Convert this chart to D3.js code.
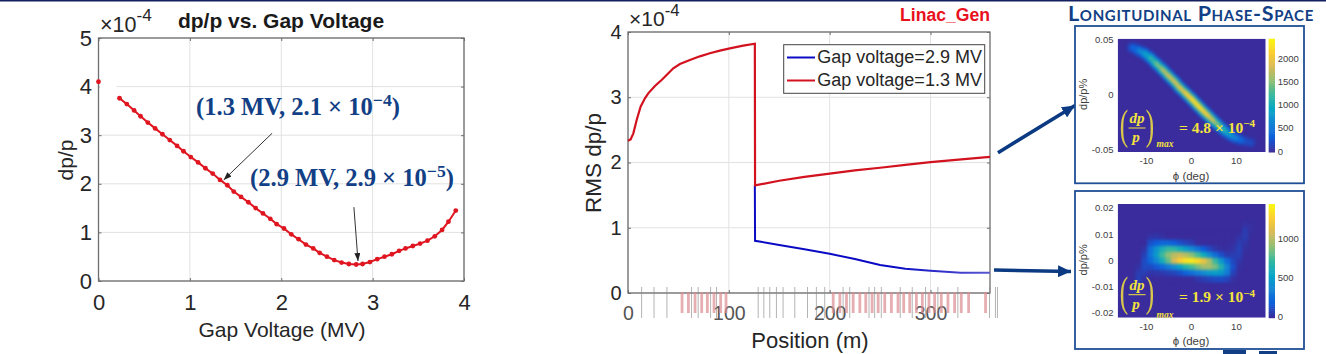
<!DOCTYPE html>
<html>
<head>
<meta charset="utf-8">
<script src="https://cdn.jsdelivr.net/npm/d3@7"></script>
<style>
html, body { margin: 0; background: #fff; }
svg { display: block; }
text { font-family: "Liberation Sans", Arial, sans-serif; }
.math { font-family: "Liberation Serif", serif; font-weight: bold; }
</style>
</head>
<body>
<svg id="chart" width="1326" height="354"></svg>
<script>
// left chart, dp/p against gap voltage
const voltage = [.23,.31,.39,.46,.54,.62,.70,.78,.86,.93,1.01,1.09,1.17,1.25,1.33,1.41,1.48,1.56,1.64,1.72,1.80,1.88,1.95,2.03,2.11,2.19,2.27,2.35,2.42,2.50,2.58,2.66,2.74,2.82,2.89,2.97,3.05,3.13,3.21,3.29,3.36,3.44,3.52,3.60,3.68,3.76,3.83,3.91];
const spread = [3.76,3.64,3.51,3.39,3.26,3.14,3.02,2.90,2.78,2.67,2.55,2.44,2.32,2.21,2.08,1.97,1.84,1.73,1.62,1.50,1.39,1.28,1.17,1.08,.96,.86,.75,.67,.58,.50,.43,.38,.35,.34,.35,.39,.45,.50,.55,.62,.67,.72,.77,.83,.92,1.05,1.22,1.45];
const strayPoint = [0, 4.1];

// middle chart, RMS dp/p along the linac
const redPos = [0,2.6,5.3,8.6,12.5,16.8,20.1,26.7,33.3,38.3,44.9,51.5,61.4,71.3,81.2,91.1,101,114.2,125.8,126,150,175,200,225,250,275,300,325,359];
const redRms = [2.335,2.355,2.447,2.651,2.856,2.983,3.06,3.172,3.264,3.341,3.443,3.51,3.571,3.627,3.674,3.714,3.75,3.79,3.82,1.65,1.72,1.78,1.83,1.88,1.92,1.965,2.005,2.04,2.085];
const bluePos = [125.8,126,150,175,200,225,250,275,300,330,359];
const blueRms = [1.65,.80,.736,.67,.60,.52,.43,.37,.34,.31,.31];
const pinkBars = [53.5,59.8,66.4,73,78.6,85.2,91.8,97.1,203.4,210,216.6,223.2,229.8,235.7,242,248,254.5,261.1,267.7,273.3,279.3,285.9,291.8,298.4,304,310.6,317.2,323.8,330.4,337.7,354.5];
const greyBars = [13.5,25.8,38.6,63,69.6,81.9,87.8,129.1,134.7,140.6,147.2,153.8,165.4,178,186.8,195.1,213.3,219.9,239,244.6,251.2,270,281.9,295.1,307.3,327.1,358.5,364.4,366.4];

// upper phase space map, crest of the thin diagonal ridge
const ridgePhi = [-13.1,-11.8,-10.5,-9.2,-7.9,-6.5,-5.2,-3.9,-2.6,-1.25,.1,1.3,2.6,4,5.3,6.6,7.9,9.2,10.6,11.9,13.2];
const ridgeDp = [.0433,.0409,.0382,.0343,.0291,.0237,.0182,.0130,.0070,.0018,-.0036,-.0088,-.0142,-.0197,-.0248,-.0294,-.0339,-.0376,-.0400,-.0418,-.0430];
const ridgeCount = [250,550,800,1100,1400,1700,1900,1950,1950,2150,2300,2350,2300,2100,1800,1400,1000,750,500,300,120];

// lower map: each row is [first column, counts from there on], the rest is 0
const heatBottom = [
  [0],[0],[0],[21,25,10],[21,60,10],[5,30,40,20,0,0,0,0,0,0,0,0,0,0,0,0,30,60],
  [5,130,180,220,220,180,130,90,60,0,0,0,0,0,0,10,60,35],
  [4,30,260,440,620,720,700,610,500,390,280,180,100,40,15,10,30,80,15],
  [4,80,280,480,740,900,1020,1060,1000,900,750,580,400,250,130,50,60,70],
  [4,110,230,370,600,820,1090,1270,1360,1380,1320,1190,970,720,470,240,100,35],
  [3,25,110,110,160,230,310,410,520,660,750,860,950,960,860,660,370,130,15],
  [3,60,70,30,40,50,70,90,130,200,260,330,400,480,510,480,320,80],
  [3,80,20,0,0,0,0,0,0,0,0,40,60,90,110,120,90,20],
  [3,55],[2,25,30],[2,15],[0],[0],[0]
];
const heatCols = 25, heatRows = 19;

const svg = d3.select("#chart");
const ink = "#262626", gridCol = "#e2e2e2", boxCol = "#6e6e6e", red = "#df1520", navy = "#0b3a82";

svg.append("rect").attr("width", 1326).attr("height", 1.5).attr("fill", "#14205e");
svg.append("rect").attr("x", 1223).attr("y", 350).attr("width", 23).attr("height", 4).attr("fill", "#123f85");
svg.append("rect").attr("x", 1259).attr("y", 351).attr("width", 18).attr("height", 3).attr("fill", "#123f85");

const defs = svg.append("defs");
function addHead(id, w, h, col) {
  defs.append("marker").attr("id", id).attr("viewBox", `0 0 ${w} ${h}`)
    .attr("refX", w).attr("refY", h / 2).attr("markerWidth", w).attr("markerHeight", h)
    .attr("markerUnits", "userSpaceOnUse").attr("orient", "auto")
    .append("path").attr("d", `M0,0L${w},${h / 2}L0,${h}Z`).attr("fill", col);
}
addHead("headSmall", 8, 6, "#222");
addHead("headBig", 13, 12, navy);

const fade = defs.append("linearGradient").attr("id", "blueFade");
fade.append("stop").attr("offset", "0.6").attr("stop-color", "#0a0ac4");
fade.append("stop").attr("offset", "1").attr("stop-color", "#5a58d0");

function label(g, txt, x, y, size, opts = {}) {
  return g.append("text").attr("x", x).attr("y", y).text(txt)
    .attr("font-size", size).attr("dominant-baseline", "middle")
    .attr("text-anchor", opts.anchor || "middle")
    .attr("font-weight", opts.weight || null)
    .attr("fill", opts.fill || ink)
    .attr("transform", opts.rot ? `rotate(${opts.rot} ${x} ${y})` : null);
}

function timesTen(g, x, y, size) {
  const t = g.append("text").attr("x", x).attr("y", y).attr("font-size", size).attr("fill", ink);
  t.append("tspan").text("\u00d710");
  t.append("tspan").text("-4").attr("dy", -size * 0.5).attr("font-size", size * 0.8);
}

function frame(g, x, y, xTicks, yTicks, size, xSize, tickCol) {
  const [x0, x1] = x.range(), [y0, y1] = y.range();
  g.append("g").selectAll("line").data(xTicks).join("line")
    .attr("x1", x).attr("x2", x).attr("y1", y0).attr("y2", y1).attr("stroke", gridCol);
  g.append("g").selectAll("line").data(yTicks).join("line")
    .attr("x1", x0).attr("x2", x1).attr("y1", y).attr("y2", y).attr("stroke", gridCol);
  const ax = g.append("g").attr("transform", `translate(0,${y0})`)
    .call(d3.axisBottom(x).tickValues(xTicks).tickSize(-3).tickPadding(13).tickFormat(d3.format("d")));
  const ay = g.append("g").attr("transform", `translate(${x0},0)`)
    .call(d3.axisLeft(y).tickValues(yTicks).tickSize(-3).tickPadding(6.5).tickFormat(d3.format("d")));
  const atop = g.append("g").attr("transform", `translate(0,${y1})`)
    .call(d3.axisTop(x).tickValues(xTicks).tickSize(-3).tickFormat(""));
  const aright = g.append("g").attr("transform", `translate(${x1},0)`)
    .call(d3.axisRight(y).tickValues(yTicks).tickSize(-3).tickFormat(""));
  [ax, ay, atop, aright].forEach(a => {
    a.select(".domain").remove();
    a.selectAll("line").attr("stroke", boxCol);
    a.selectAll("text").attr("font-size", size).attr("fill", ink).style("font-family", '"Liberation Sans"');
  });
  ax.selectAll("text").attr("font-size", xSize).attr("fill", tickCol || ink);
}

function plotBox(g, x, y) {
  const [x0, x1] = x.range(), [y0, y1] = y.range();
  g.append("rect").attr("x", x0).attr("y", y1).attr("width", x1 - x0).attr("height", y0 - y1)
    .attr("fill", "none").attr("stroke", boxCol).attr("stroke-width", 1.3);
}

// ---- left chart
const left = svg.append("g");
const xV = d3.scaleLinear().domain([0, 4]).range([98.5, 464]);
const yS = d3.scaleLinear().domain([0, 5]).range([281, 38]);
frame(left, xV, yS, [0, 1, 2, 3, 4], [0, 1, 2, 3, 4, 5], 22, 22);
left.append("rect").attr("x", 99.5).attr("y", 66).attr("width", 17).attr("height", 58).attr("fill", "#fff");
plotBox(left, xV, yS);

const spreadLine = d3.line().x(d => xV(d[0])).y(d => yS(d[1]));
const spreadPts = voltage.map((v, i) => [v, spread[i]]);
left.append("path").attr("d", spreadLine(spreadPts)).attr("fill", "none").attr("stroke", red).attr("stroke-width", 2);
left.append("g").selectAll("circle").data([strayPoint, ...spreadPts]).join("circle")
  .attr("cx", d => xV(d[0])).attr("cy", d => yS(d[1])).attr("r", 2.4).attr("fill", red);

timesTen(left, 100, 32, 21.5);
label(left, "dp/p vs. Gap Voltage", 281, 22, 21, { weight: "bold", fill: "#1a1a1a" });
label(left, "Gap Voltage (MV)", 282, 331, 21);
label(left, "dp/p", 67, 160, 21, { rot: -90 });

function mathNote(g, x, y, a, b, exp, fill, size) {
  const t = g.append("text").attr("class", "math").attr("x", x).attr("y", y)
    .attr("font-size", size).attr("fill", fill);
  t.append("tspan").text(`(${a}, ${b} \u00d7 10`);
  t.append("tspan").text(exp).attr("dy", -size * 0.38).attr("font-size", size * 0.72);
  t.append("tspan").text(")").attr("dy", size * 0.38);
}
mathNote(left, 196, 115, "1.3 MV", "2.1", "\u22124", "#123f85", 24.6);
mathNote(left, 250, 186, "2.9 MV", "2.9", "\u22125", "#123f85", 24.6);

const notes = [[1.9, 3.04, 1.37, 2.08], [2.795, 1.52, 2.84, .41]];
left.append("g").selectAll("line").data(notes).join("line")
  .attr("x1", d => xV(d[0])).attr("y1", d => yS(d[1]))
  .attr("x2", d => xV(d[2])).attr("y2", d => yS(d[3]))
  .attr("stroke", "#333").attr("stroke-width", 1).attr("marker-end", "url(#headSmall)");

// ---- middle chart
const mid = svg.append("g");
const xP = d3.scaleLinear().domain([0, 359]).range([628, 990]);
const yR = d3.scaleLinear().domain([0, 4]).range([293, 32]);
frame(mid, xP, yR, [0, 100, 200, 300], [0, 1, 2, 3, 4], 20, 19.5, "#555");
plotBox(mid, xP, yR);

const rmsLine = d3.line().x(d => xP(d[0])).y(d => yR(d[1]));
mid.append("path").attr("d", rmsLine(bluePos.map((p, i) => [p, blueRms[i]])))
  .attr("fill", "none").attr("stroke", "url(#blueFade)").attr("stroke-width", 2);
mid.append("path").attr("d", rmsLine(redPos.map((p, i) => [p, redRms[i]])))
  .attr("fill", "none").attr("stroke", "#d2121e").attr("stroke-width", 2.2);

mid.append("g").selectAll("rect").data(pinkBars).join("rect")
  .attr("x", d => xP(d) - 1.3).attr("y", 292).attr("width", 2.8).attr("height", 21)
  .attr("fill", "#dc8c90").attr("opacity", .7);
mid.append("g").selectAll("line").data(greyBars).join("line")
  .attr("x1", xP).attr("x2", xP).attr("y1", 287).attr("y2", 318)
  .attr("stroke", "#8c8c8c").attr("opacity", .65);

timesTen(mid, 629, 26, 21);
label(mid, "Linac_Gen", 990, 16, 17.6, { anchor: "end", weight: "bold", fill: "#e8101c" });
label(mid, "Position (m)", 810, 342, 22);
label(mid, "RMS dp/p", 595, 163, 22.5, { rot: -90 });

const legendNames = ["Gap voltage=2.9 MV", "Gap voltage=1.3 MV"];
const legendCols = ["#0a0ac4", "#d2121e"];
const legY = d3.scalePoint().domain(legendNames).range([57.5, 80.5]);
mid.append("rect").attr("x", 783.7).attr("y", 44.7).attr("width", 201).attr("height", 48.6)
  .attr("fill", "#fff").attr("stroke", "#444").attr("stroke-width", 1);
legendNames.forEach((n, i) => {
  mid.append("line").attr("x1", 787).attr("x2", 815).attr("y1", legY(n)).attr("y2", legY(n))
    .attr("stroke", legendCols[i]).attr("stroke-width", 2);
  label(mid, n, 817.3, legY(n) + 1, 18, { anchor: "start" });
});

// connector arrows
svg.append("line").attr("x1", 998).attr("y1", 152.7).attr("x2", 1075).attr("y2", 105.5)
  .attr("stroke", navy).attr("stroke-width", 3.6).attr("marker-end", "url(#headBig)");
svg.append("line").attr("x1", 994).attr("y1", 270).attr("x2", 1071).attr("y2", 271.5)
  .attr("stroke", navy).attr("stroke-width", 3.6).attr("marker-end", "url(#headBig)");

// ---- phase space panels
label(svg, "Longitudinal Phase-Space", 1191, 15, 21.5, { weight: "bold", fill: "#123f85" })
  .style("font-family", "Lato").style("font-variant", "small-caps").attr("letter-spacing", .65);

const parula = ["#3a2c9c", "#0d5fdc", "#1485d4", "#06a7c6", "#38b99e", "#92bf73", "#d9ba56", "#fcce2e", "#f9fb0e"];
// ridge drawn as stacked strokes, from the dim outer edge in to the crest
const ridgeLayers = [[.12, 13], [.35, 10], [.6, 7.5], [.85, 4.5], [1, 2]];

defs.append("filter").attr("id", "soften").attr("x", "-10%").attr("y", "-10%").attr("width", "120%").attr("height", "120%")
  .attr("color-interpolation-filters", "sRGB")
  .append("feGaussianBlur").attr("stdDeviation", 1.7);

function phasePanel(o) {
  const g = svg.append("g");
  g.append("rect").attr("x", 1075).attr("y", o.box[0]).attr("width", 229).attr("height", o.box[1] - o.box[0])
    .attr("fill", "#fff").attr("stroke", "#1f4f96").attr("stroke-width", 1.8);

  const x = d3.scaleLinear().domain([-16.4, 16.5]).range([1117.7, 1265.7]);
  const y = d3.scaleLinear().domain(o.yDomain).range(o.plot);
  const stops = d3.range(parula.length).map(i => i / (parula.length - 1) * o.zMax);
  const color = d3.scaleLinear().domain(stops).range(parula);

  defs.append("clipPath").attr("id", o.id).append("rect")
    .attr("x", 1117.7).attr("y", o.plot[1]).attr("width", 148).attr("height", o.plot[0] - o.plot[1]);

  const clip = g.append("g").attr("clip-path", `url(#${o.id})`);
  clip.append("rect").attr("x", 1117.7).attr("y", o.plot[1]).attr("width", 148).attr("height", o.plot[0] - o.plot[1])
    .attr("fill", color(0));
  const soft = clip.append("g").attr("filter", "url(#soften)");

  if (o.rows) {
    const col = d3.scaleBand().domain(d3.range(heatCols)).range(x.range());
    const row = d3.scaleBand().domain(d3.range(heatRows)).range(o.plot.slice().reverse());
    const cells = o.rows.flatMap((r, j) => r.slice(1).map((v, k) => ({ i: r[0] + k, j, v })));
    soft.selectAll("rect").data(cells).join("rect")
      .attr("x", d => col(d.i)).attr("y", d => row(d.j))
      .attr("width", col.bandwidth() + .5).attr("height", row.bandwidth() + .5)
      .attr("fill", d => color(d.v));
  } else {
    ridgeLayers.forEach(([share, width]) => {
      soft.append("g").selectAll("line").data(d3.pairs(d3.range(ridgePhi.length))).join("line")
        .attr("x1", d => x(ridgePhi[d[0]])).attr("y1", d => y(ridgeDp[d[0]]))
        .attr("x2", d => x(ridgePhi[d[1]])).attr("y2", d => y(ridgeDp[d[1]]))
        .attr("stroke", d => color(share * (ridgeCount[d[0]] + ridgeCount[d[1]]) / 2))
        .attr("stroke-width", width).attr("stroke-linecap", "round");
    });
  }

  // colour bar
  const z = d3.scaleLinear().domain([0, o.zMax]).range([o.plot[0], o.plot[1]]);
  g.append("g").selectAll("rect").data(d3.range(0, o.zMax, o.zMax / 60)).join("rect")
    .attr("x", 1268.7).attr("width", 6.3).attr("y", d => z(d + o.zMax / 60)).attr("height", (o.plot[0] - o.plot[1]) / 60 + .5)
    .attr("fill", d => color(d));
  g.selectAll(".zt").data(o.zTicks).join("text").attr("class", "zt")
    .attr("x", 1277.7).attr("y", z).attr("dominant-baseline", "middle")
    .attr("font-size", 9.5).attr("fill", "#404040").text(d => d);

  g.selectAll(".xt").data([-10, 0, 10]).join("text").attr("class", "xt")
    .attr("x", x).attr("y", o.plot[0] + 9.5).attr("text-anchor", "middle").attr("dominant-baseline", "middle")
    .attr("font-size", 9.7).attr("fill", "#404040").text(d => d);
  g.selectAll(".yt").data(o.yTicks).join("text").attr("class", "yt")
    .attr("x", 1113.5).attr("y", y).attr("text-anchor", "end").attr("dominant-baseline", "middle")
    .attr("font-size", 9.5).attr("fill", "#404040").text(d => d);

  label(g, "\u03d5 (deg)", 1191, o.plot[0] + 24.5, 11.5, { fill: "#404040" });
  label(g, "dp/p%", 1084, (o.plot[0] + o.plot[1]) / 2 - 1, 11, { fill: "#404040", rot: -90 });

  // yellow formula
  const t = o.plot[0], yellow = "#f4e33c";
  const put = (parent, txt, px, py, size, italic, anchor) => parent.append("text").attr("class", "math")
    .attr("x", px).attr("y", py).attr("font-size", size).attr("fill", yellow)
    .attr("text-anchor", anchor || "middle").attr("font-style", italic ? "italic" : null).text(txt);
  const ty = d => t - d;
  const paren = (m, txt, px) => put(m, txt, 0, 0, 42).style("font-weight", "normal").attr("opacity", .85)
    .attr("transform", `translate(${px},${ty(o.formulaUp + 13)}) scale(.6,1)`);
  clip.append("g").call(m => {
    paren(m, "(", 1124);
    paren(m, ")", 1150);
    put(m, "dp", 1137, ty(o.formulaUp + 29), 15, true);
    m.append("line").attr("x1", 1128.5).attr("x2", 1145.5).attr("y1", ty(o.formulaUp + 24)).attr("y2", ty(o.formulaUp + 24)).attr("stroke", yellow);
    put(m, "p", 1136, ty(o.formulaUp + 10), 15, true);
    put(m, "max", 1165, ty(o.maxUp), 9.5, true);
  });
  const eq = put(g, `= ${o.peak} \u00d7 10`, 1179, ty(o.eqUp), 15.5, false, "start");
  eq.append("tspan").text("\u22124").attr("dy", -5.5).attr("font-size", 11);
}

phasePanel({
  id: "clipTop", box: [26, 183.3], plot: [152, 38.7], yDomain: [-.0515, .0515], yTicks: [-.05, 0, .05],
  zMax: 2460, zTicks: [0, 500, 1000, 1500, 2000], peak: "4.8", maxUp: 5, eqUp: 19.5, formulaUp: 0
});
phasePanel({
  id: "clipBottom", box: [191, 349], plot: [317.7, 204], yDomain: [-.0215, .0219], yTicks: [-.02, -.01, 0, .01, .02],
  rows: heatBottom, zMax: 1460, zTicks: [0, 500, 1000], peak: "1.9", maxUp: 0, eqUp: 15.5, formulaUp: -1
});
</script>
</body>
</html>
